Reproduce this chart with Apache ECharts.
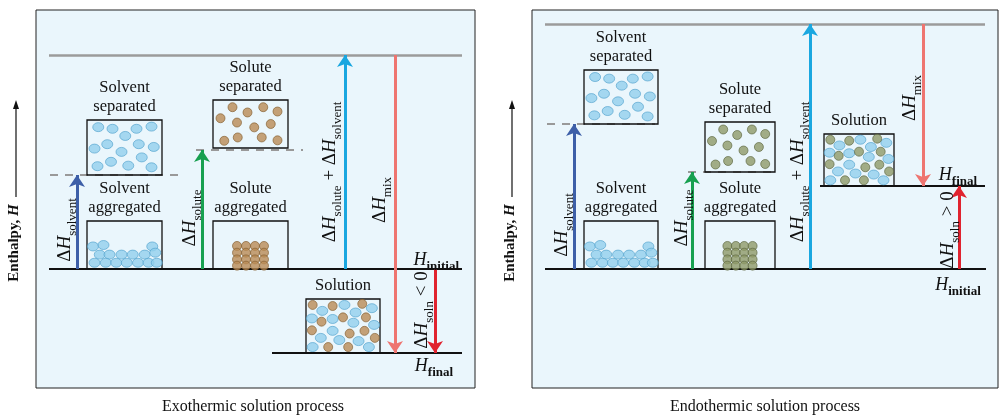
<!DOCTYPE html>
<html><head><meta charset="utf-8">
<script src="https://cdn.jsdelivr.net/npm/echarts@6/dist/echarts.min.js"></script>
<style>html,body{margin:0;padding:0;background:#fff}#c{width:1001px;height:415px}</style>
</head><body><div id="c"></div>
<script>
// Enthalpy levels (units above H_initial) per panel
const exoLevels = {initial:0, solvent:94, solute:119, top:214, final:-84};
const endoLevels = {initial:0, solvent:145, solute:97, top:245, final:83};
// panel arrow x positions (within panel)
const exoArrowX = {solvent:41, solute:166, sum:309, mix:359, soln:399};
const endoArrowX = {solvent:42, solute:160, sum:278, mix:391, soln:427};
// boxes [x0,x1,yBottom,yTop,label]
const exoBoxes = [[51,126,94,149,'Solvent\nseparated'],[51,126,0,48,'Solvent\naggregated'],[177,252,121,169,'Solute\nseparated'],[177,252,0,48,'Solute\naggregated'],[270,344,-84,-30,'Solution']];
const endoBoxes = [[52,126,145,199,'Solvent\nseparated'],[52,126,0,48,'Solvent\naggregated'],[173,243,97,147,'Solute\nseparated'],[173,243,0,48,'Solute\naggregated'],[292,362,83,135,'Solution']];
// particle fractional positions [fx, fyFromTop]
const solventSep = [[0.15,0.13],[0.34,0.16],[0.66,0.16],[0.86,0.12],[0.51,0.29],[0.10,0.52],[0.27,0.44],[0.69,0.44],[0.89,0.49],[0.46,0.58],[0.73,0.68],[0.14,0.84],[0.32,0.76],[0.55,0.83],[0.86,0.86]];
const solventAgg = [[0.08,0.53],[0.22,0.50],[0.87,0.53],[0.17,0.70],[0.30,0.70],[0.46,0.70],[0.61,0.70],[0.77,0.70],[0.91,0.66],[0.10,0.87],[0.25,0.87],[0.39,0.87],[0.53,0.87],[0.68,0.87],[0.82,0.87],[0.93,0.87]];
const soluteSep = [[0.26,0.15],[0.46,0.26],[0.67,0.15],[0.86,0.24],[0.10,0.38],[0.32,0.47],[0.55,0.57],[0.77,0.5],[0.15,0.85],[0.33,0.78],[0.65,0.78],[0.86,0.84]];
const soluteAgg = [[0.32,0.52],[0.44,0.52],[0.56,0.52],[0.68,0.52],[0.32,0.66],[0.44,0.66],[0.56,0.66],[0.68,0.66],[0.32,0.80],[0.44,0.80],[0.56,0.80],[0.68,0.80],[0.32,0.93],[0.44,0.93],[0.56,0.93],[0.68,0.93]];
const solnSolute = [[0.09,0.11],[0.36,0.13],[0.76,0.09],[0.21,0.42],[0.50,0.34],[0.81,0.34],[0.08,0.58],[0.59,0.64],[0.79,0.59],[0.93,0.72],[0.30,0.89],[0.57,0.89]];
const solnSolvent = [[0.22,0.22],[0.52,0.11],[0.89,0.17],[0.08,0.36],[0.36,0.37],[0.67,0.25],[0.92,0.48],[0.2,0.72],[0.36,0.59],[0.64,0.44],[0.71,0.78],[0.45,0.76],[0.09,0.89],[0.85,0.89]];
// arrow labels [key, x, y] (panel coords)
const exoLabels = [['dsolvent',29,39],['dsolute',154,51],['sum',294,97],['dmix',344,69],['dsolnlt',386,-41]];
const endoLabels = [['dsolvent',30,44],['dsolute',150,51],['sum',266,97],['dmix',378,171],['dsolngt',416,39]];
const exoH = [['Hinit',423,9,'right'],['Hfinal',398,-97,'center']];
const endoH = [['Hfinal',426,94,'center'],['Hinit',426,-16,'center']];

const TXT = {
  dsolvent:'Δ{i|H}{s|solvent}', dsolute:'Δ{i|H}{s|solute}',
  sum:'Δ{i|H}{s|solute} + Δ{i|H}{s|solvent}', dmix:'Δ{i|H}{s|mix}',
  dsolnlt:'Δ{i|H}{s|soln} < 0', dsolngt:'Δ{i|H}{s|soln} > 0',
  Hinit:'{I|H}{b|initial}', Hfinal:'{I|H}{b|final}'
};
const SERIF='"Liberation Serif","DejaVu Serif",serif';
const RICH = {
  i:{fontStyle:'italic',fontSize:19,fontFamily:SERIF,fill:'#111',lineHeight:28,verticalAlign:'middle'},
  s:{fontSize:13,fontFamily:SERIF,fill:'#111',lineHeight:28,verticalAlign:'bottom'},
  I:{fontStyle:'italic',fontSize:18,fontFamily:SERIF,fill:'#111',lineHeight:26,verticalAlign:'middle'},
  b:{fontSize:13,fontWeight:'bold',fontFamily:SERIF,fill:'#111',lineHeight:26,verticalAlign:'bottom'}
};

function panelSeries(idx, L, AX, boxes, labels, hlabels, soluteColor, soluteBorder, W){
  const s = [];
  const ax = {xAxisIndex:idx, yAxisIndex:idx};
  const lines = (data, color, width, type, arrow) => ({type:'lines',coordinateSystem:'cartesian2d',...ax,
    symbol: arrow ? ['none','arrow'] : 'none', symbolSize:[8,12], silent:true,
    lineStyle:{color, width, type, opacity:1}, data: data.map(c=>({coords:c})), z:3});
  s.push(lines([[[13,L.top],[W-13,L.top]]],'#9b9b9b',2.5,'solid',false));
  s.push(lines(idx===0 ? [[[13,L.initial],[W-13,L.initial]]] : [[[13,L.initial],[W-12,L.initial]]],'#111',2,'solid',false));
  s.push(lines([[[idx===0?236:288,L.final],[W-13,L.final]]],'#111',2,'solid',false));
  s.push(lines(idx===0 ? [[[14,L.solvent],[142,L.solvent]],[[160,L.solute],[267,L.solute]]] : [[[15,L.solvent],[123,L.solvent]],[[156,L.solute],[243,L.solute]]],'#999',2,[8,7],false));
  s.push(lines([[[AX.solvent,L.initial],[AX.solvent,L.solvent]]],'#3d5fa8',3,'solid',true));
  s.push(lines([[[AX.solute,L.initial],[AX.solute,L.solute]]],'#17a050',3,'solid',true));
  s.push(lines([[[AX.sum,L.initial],[AX.sum,L.top]]],'#1aa7e0',3,'solid',true));
  s.push(lines([[[AX.mix,L.top],[AX.mix,L.final]]],'#ee7570',3,'solid',true));
  s.push(lines([[[AX.soln,L.initial],[AX.soln,L.final]]],'#e0232f',3,'solid',true));
  // boxes
  s.push({type:'custom',...ax,silent:true,z:4,data:boxes.map(b=>b.slice(0,4)),
    renderItem:(p,api)=>{
      const b = boxes[p.dataIndex];
      const a = api.coord([b[0],b[3]]), c = api.coord([b[1],b[2]]);
      return {type:'group',children:[
        {type:'rect',shape:{x:a[0],y:a[1],width:c[0]-a[0],height:c[1]-a[1]},style:{fill:'none',stroke:'#111',lineWidth:1.3}},
        {type:'text',x:(a[0]+c[0])/2,y:a[1]-4,style:{text:b[4],font:'16.5px '+SERIF,fill:'#111',align:'center',verticalAlign:'bottom',lineHeight:19}}
      ]};
    }});
  // particles
  const place = (box, pts) => pts.map(f=>[box[0]+f[0]*(box[1]-box[0]), box[3]-f[1]*(box[3]-box[2])]);
  const blue = {color:'#92cfec',borderColor:'#4f9fcc',borderWidth:0.8};
  const sol = {color:soluteColor,borderColor:soluteBorder,borderWidth:0.8};
  s.push({type:'scatter',...ax,silent:true,z:5,symbol:'circle',symbolSize:[11,9],itemStyle:blue,
    data:[...place(boxes[0],solventSep),...place(boxes[1],solventAgg),...place(boxes[4],solnSolvent)]});
  s.push({type:'scatter',...ax,silent:true,z:6,symbol:'circle',symbolSize:9,itemStyle:sol,
    data:[...place(boxes[2],soluteSep),...place(boxes[3],soluteAgg),...place(boxes[4],solnSolute)]});
  // rotated arrow labels
  s.push({type:'custom',...ax,silent:true,z:7,data:labels.map(l=>[l[1],l[2]]),
    renderItem:(p,api)=>{
      const l = labels[p.dataIndex]; const pt = api.coord([l[1],l[2]]);
      return {type:'text',x:pt[0],y:pt[1],rotation:Math.PI/2,
        style:{text:TXT[l[0]],rich:RICH,font:'19px '+SERIF,fill:'#111',align:'center',verticalAlign:'middle'}};
    }});
  s.push({type:'custom',...ax,silent:true,z:7,data:hlabels.map(l=>[l[1],l[2]]),
    renderItem:(p,api)=>{
      const l = hlabels[p.dataIndex]; const pt = api.coord([l[1],l[2]]);
      return {type:'text',x:pt[0],y:pt[1],
        style:{text:TXT[l[0]],rich:RICH,font:'18px '+SERIF,fill:'#111',align:l[3],verticalAlign:'middle'}};
    }});
  return s;
}

const chart = echarts.init(document.getElementById('c'));
const gridStyle = {show:true,backgroundColor:'#eaf6fc',borderColor:'#222',borderWidth:1};
const ylab = {text:'Enthalpy, {i|H}',rich:{i:{fontStyle:'italic',fontWeight:'bold',fontSize:15,fontFamily:SERIF}},font:'bold 15px '+SERIF,fill:'#111',align:'center',verticalAlign:'middle'};
chart.setOption({
  animation:false,
  grid:[{left:36,top:10,width:439,height:378,...gridStyle},{left:532,top:10,width:466,height:378,...gridStyle}],
  xAxis:[{type:'value',gridIndex:0,min:0,max:439,show:false},{type:'value',gridIndex:1,min:0,max:466,show:false}],
  yAxis:[{type:'value',gridIndex:0,min:-119,max:259,show:false},{type:'value',gridIndex:1,min:-119,max:259,show:false}],
  graphic:[
    {type:'text',x:14,y:243,rotation:Math.PI/2,style:ylab},
    {type:'line',shape:{x1:16,y1:197,x2:16,y2:106},style:{stroke:'#111',lineWidth:1.2}},
    {type:'polygon',shape:{points:[[16,100],[13,109],[19,109]]},style:{fill:'#111'}},
    {type:'text',x:510,y:243,rotation:Math.PI/2,style:ylab},
    {type:'line',shape:{x1:512,y1:197,x2:512,y2:106},style:{stroke:'#111',lineWidth:1.2}},
    {type:'polygon',shape:{points:[[512,100],[509,109],[515,109]]},style:{fill:'#111'}},
    {type:'text',x:253,y:407,style:{text:'Exothermic solution process',font:'16px '+SERIF,fill:'#111',align:'center',verticalAlign:'middle'}},
    {type:'text',x:765,y:407,style:{text:'Endothermic solution process',font:'16px '+SERIF,fill:'#111',align:'center',verticalAlign:'middle'}}
  ],
  series:[
    ...panelSeries(0, exoLevels, exoArrowX, exoBoxes, exoLabels, exoH, '#b98b55','#80592a',439),
    ...panelSeries(1, endoLevels, endoArrowX, endoBoxes, endoLabels, endoH, '#8e9a68','#58623c',466)
  ]
});
</script></body></html>
